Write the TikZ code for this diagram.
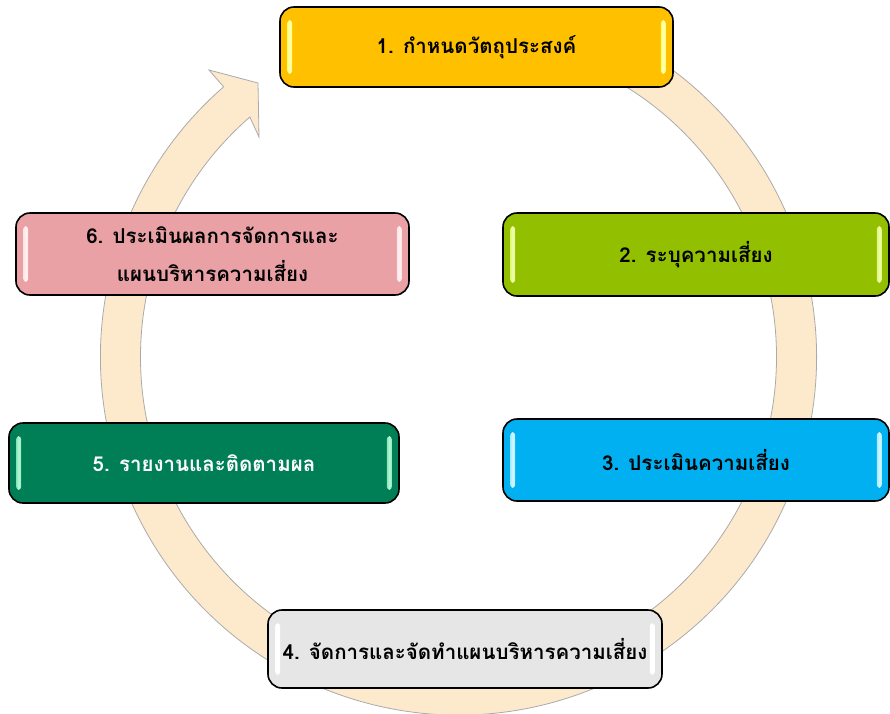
\documentclass[tikz,border=0pt]{standalone}
\usepackage{fontspec}
\newfontfamily\thaifont[Script=Thai]{Loma}
\usetikzlibrary{calc}
\definecolor{ringfill}{HTML}{FDE9CC}
\definecolor{ringline}{HTML}{ABABAB}
\definecolor{c1}{HTML}{FFC000}
\definecolor{c2}{HTML}{92C000}
\definecolor{c3}{HTML}{00B0F0}
\definecolor{c4}{HTML}{E6E6E6}
\definecolor{c5}{HTML}{007F57}
\definecolor{c6}{HTML}{E9A1A6}
\definecolor{h1}{HTML}{FFFF70}
\definecolor{h2}{HTML}{E0F870}
\definecolor{h3}{HTML}{A8ECFF}
\definecolor{h4}{HTML}{FFFFFF}
\definecolor{h5}{HTML}{80E8B8}
\definecolor{h6}{HTML}{FFE4E6}
\newcommand\glossbars[2]{%
  \shade[left color=#2, right color=#2, middle color=white!50!#2, rounded corners=3pt]
    ($(#1.north west)+(8,-14)$) rectangle ($(#1.south west)+(13,14)$);
  \shade[left color=#2, right color=#2, middle color=white!50!#2, rounded corners=3pt]
    ($(#1.north east)+(-13,-14)$) rectangle ($(#1.south east)+(-8,14)$);
}
\tikzset{
  stepbox/.style={draw=black, line width=1.6pt, rounded corners=14pt,
    inner sep=0pt, align=center,
    font=\thaifont\bfseries\fontsize{20.5}{38}\selectfont},
  ringstyle/.style={fill=ringfill, draw=ringline, line width=0.8pt, line join=miter},
}
\begin{document}
\begin{tikzpicture}[x=1pt,y=1pt]
\useasboundingbox (0,0) rectangle (890,-713);
\clip (0,0) rectangle (890,-713);
\fill[white] (0,0) rectangle (890,-713);
% ring arrow
\coordinate (rc) at (458.5,-357);
\coordinate (wingout) at (209,-70);
\coordinate (tip) at (258,-83);
\coordinate (wingin) at (259,-137);
\path[ringstyle] ($(rc)+(70:358)$) arc[start angle=70, end angle=-229, radius=358]
  -- (wingout) -- (tip) -- (wingin)
  -- ($(rc)+(-229:318)$) arc[start angle=-229, end angle=70, radius=318] -- cycle;
% boxes
\node[stepbox, fill=c1, minimum width=393pt, minimum height=80pt] (b1) at (476.5,-47) {1. กำหนดวัตถุประสงค์};
\node[stepbox, fill=c2, minimum width=386pt, minimum height=83pt] (b2) at (696,-254.5) {2. ระบุความเสี่ยง};
\node[stepbox, fill=c3, minimum width=386pt, minimum height=82pt] (b3) at (696,-460) {3. ประเมินความเสี่ยง};
\node[stepbox, fill=c4, minimum width=394pt, minimum height=78pt] (b4) at (465,-649) {4. จัดการและจัดทำแผนบริหารความเสี่ยง};
\node[stepbox, fill=c5, text=white, minimum width=390pt, minimum height=80pt] (b5) at (204,-463) {5. รายงานและติดตามผล};
\node[stepbox, fill=c6, minimum width=393pt, minimum height=82pt] (b6) at (212.5,-254) {6. ประเมินผลการจัดการและ\\แผนบริหารความเสี่ยง};
\glossbars{b1}{h1}
\glossbars{b2}{h2}
\glossbars{b3}{h3}
\glossbars{b4}{h4}
\glossbars{b5}{h5}
\glossbars{b6}{h6}
\end{tikzpicture}
\end{document}
